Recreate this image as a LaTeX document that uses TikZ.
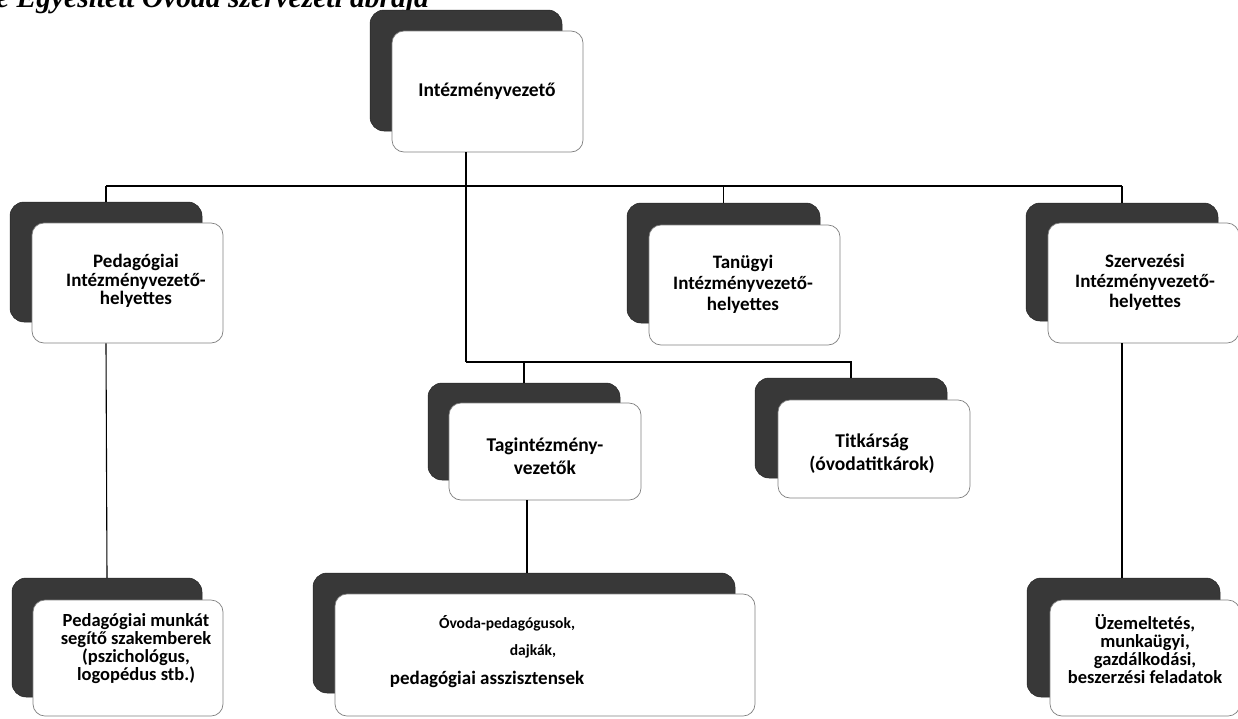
\documentclass[tikz,border=0pt]{standalone}
\usepackage{fontspec}
\setmainfont{Carlito}
\newfontfamily\titlefont{Liberation Serif}
\begin{document}
\begin{tikzpicture}[x=1pt,y=-1pt,
  darkbox/.style={fill=black!78, draw=black!85, line width=0.5pt, rounded corners=14pt, inner sep=0pt},
  wbox/.style={fill=white, draw=black!50, line width=0.7pt, rounded corners=12pt, inner sep=0pt},
  txt/.style={font=\fontsize{19.5}{19}\selectfont\bfseries, align=center, inner sep=0pt, text=black},
  conn/.style={draw=black, line width=1.1pt}]
\clip (0,0) rectangle (1238,718);
\fill[white] (0,0) rectangle (1238,718);
% title fragment (cut at top edge)
\node[anchor=base west, inner sep=0pt, font=\titlefont\bfseries\itshape\fontsize{29.5}{29.5}\selectfont] (title) at (-4,7) {e Egyesített Óvoda szervezeti ábrája};
% --- boxes: dark shadow then white card
\node[darkbox, minimum width=192pt, minimum height=121pt] (top-d) at (466,70.5) {};
\node[wbox, minimum width=191pt, minimum height=121pt] (top) at (487.5,91.5) {};
\node[txt] (top-t) at (487,91) {Intézményvezető};

\node[darkbox, minimum width=192pt, minimum height=120pt] (ped-d) at (106,262) {};
\node[wbox, minimum width=191pt, minimum height=120pt] (ped) at (127.5,283) {};
\node[txt, font=\fontsize{19}{18.5}\selectfont\bfseries] (ped-t) at (136,281) {Pedagógiai\\Intézményvezető-\\helyettes};

\node[darkbox, minimum width=193pt, minimum height=120pt] (tan-d) at (723.5,263) {};
\node[wbox, minimum width=191pt, minimum height=120pt] (tan) at (744.5,285) {};
\node[txt, font=\fontsize{19}{21}\selectfont\bfseries] (tan-t) at (743,284) {Tanügyi\\Intézményvezető-\\helyettes};

\node[darkbox, minimum width=192pt, minimum height=118pt] (sze-d) at (1122,262) {};
\node[wbox, minimum width=191pt, minimum height=120pt] (sze) at (1143.5,283) {};
\node[txt, font=\fontsize{19}{20}\selectfont\bfseries] (sze-t) at (1145,282) {Szervezési\\Intézményvezető-\\helyettes};

\node[darkbox, minimum width=192pt, minimum height=97pt] (tag-d) at (524,431.5) {};
\node[wbox, minimum width=192pt, minimum height=97pt] (tag) at (545,451.5) {};
\node[txt, font=\fontsize{19.5}{23}\selectfont\bfseries] (tag-t) at (545,456) {Tagintézmény-\\vezetők};

\node[darkbox, minimum width=192pt, minimum height=100pt] (tit-d) at (851,428) {};
\node[wbox, minimum width=192pt, minimum height=98pt] (tit) at (874,449) {};
\node[txt, font=\fontsize{19.5}{23}\selectfont\bfseries] (tit-t) at (872,454) {Titkárság\\(óvodatitkárok)};

\node[darkbox, minimum width=190pt, minimum height=119pt] (pmk-d) at (107,637.5) {};
\node[wbox, minimum width=190pt, minimum height=116pt] (pmk) at (128,658) {};
\node[txt, font=\fontsize{18.5}{18}\selectfont\bfseries] (pmk-t) at (136,649) {Pedagógiai munkát\\segítő szakemberek\\(pszichológus,\\logopédus stb.)};

\node[darkbox, minimum width=422pt, minimum height=120pt] (ovo-d) at (524,633) {};
\node[wbox, minimum width=420pt, minimum height=122pt] (ovo) at (545,655) {};
\node[txt, font=\fontsize{15.5}{16}\selectfont\bfseries] (ovo-t1) at (507,623) {Óvoda-pedagógusok,};
\node[txt, font=\fontsize{15.5}{16}\selectfont\bfseries] (ovo-t2) at (533,651) {dajkák,};
\node[txt, font=\fontsize{19}{20}\selectfont\bfseries] (ovo-t3) at (487,679) {pedagógiai asszisztensek};

\node[darkbox, minimum width=193pt, minimum height=119pt] (uze-d) at (1123.5,637.5) {};
\node[wbox, minimum width=190pt, minimum height=116pt] (uze) at (1145,658) {};
\node[txt, font=\fontsize{18.5}{18}\selectfont\bfseries] (uze-t) at (1145,649) {Üzemeltetés,\\munkaügyi,\\gazdálkodási,\\beszerzési feladatok};

% --- connectors
\coordinate (hub) at (466,186);
\coordinate (hub2) at (466,362);
\draw[conn] (top-d.south |- top.south) -- (hub);
\draw[conn] (ped-d.north |- hub) -- (sze-d.north |- hub);
\draw[conn] (ped-d.north |- hub) -- (ped-d.north);
\draw[conn] (tan-d.north |- hub) -- (tan-d.north);
\draw[conn] (sze-d.north |- hub) -- (sze-d.north);
\draw[conn] (hub) -- (hub2);
\draw[conn] (hub2) -- (tit-d.north |- hub2) -- (tit-d.north);
\draw[conn] (tag-d.north |- hub2) -- (tag-d.north);
\draw[conn] (ped-d.south |- ped.south) -- (pmk-d.north);
\draw[conn] ([xshift=3pt]tag-d.south |- tag.south) -- ([xshift=3pt]tag-d.south |- ovo-d.north);
\draw[conn] (sze-d.south |- sze.south) -- (sze-d.south |- uze-d.north);
\end{tikzpicture}
\end{document}
